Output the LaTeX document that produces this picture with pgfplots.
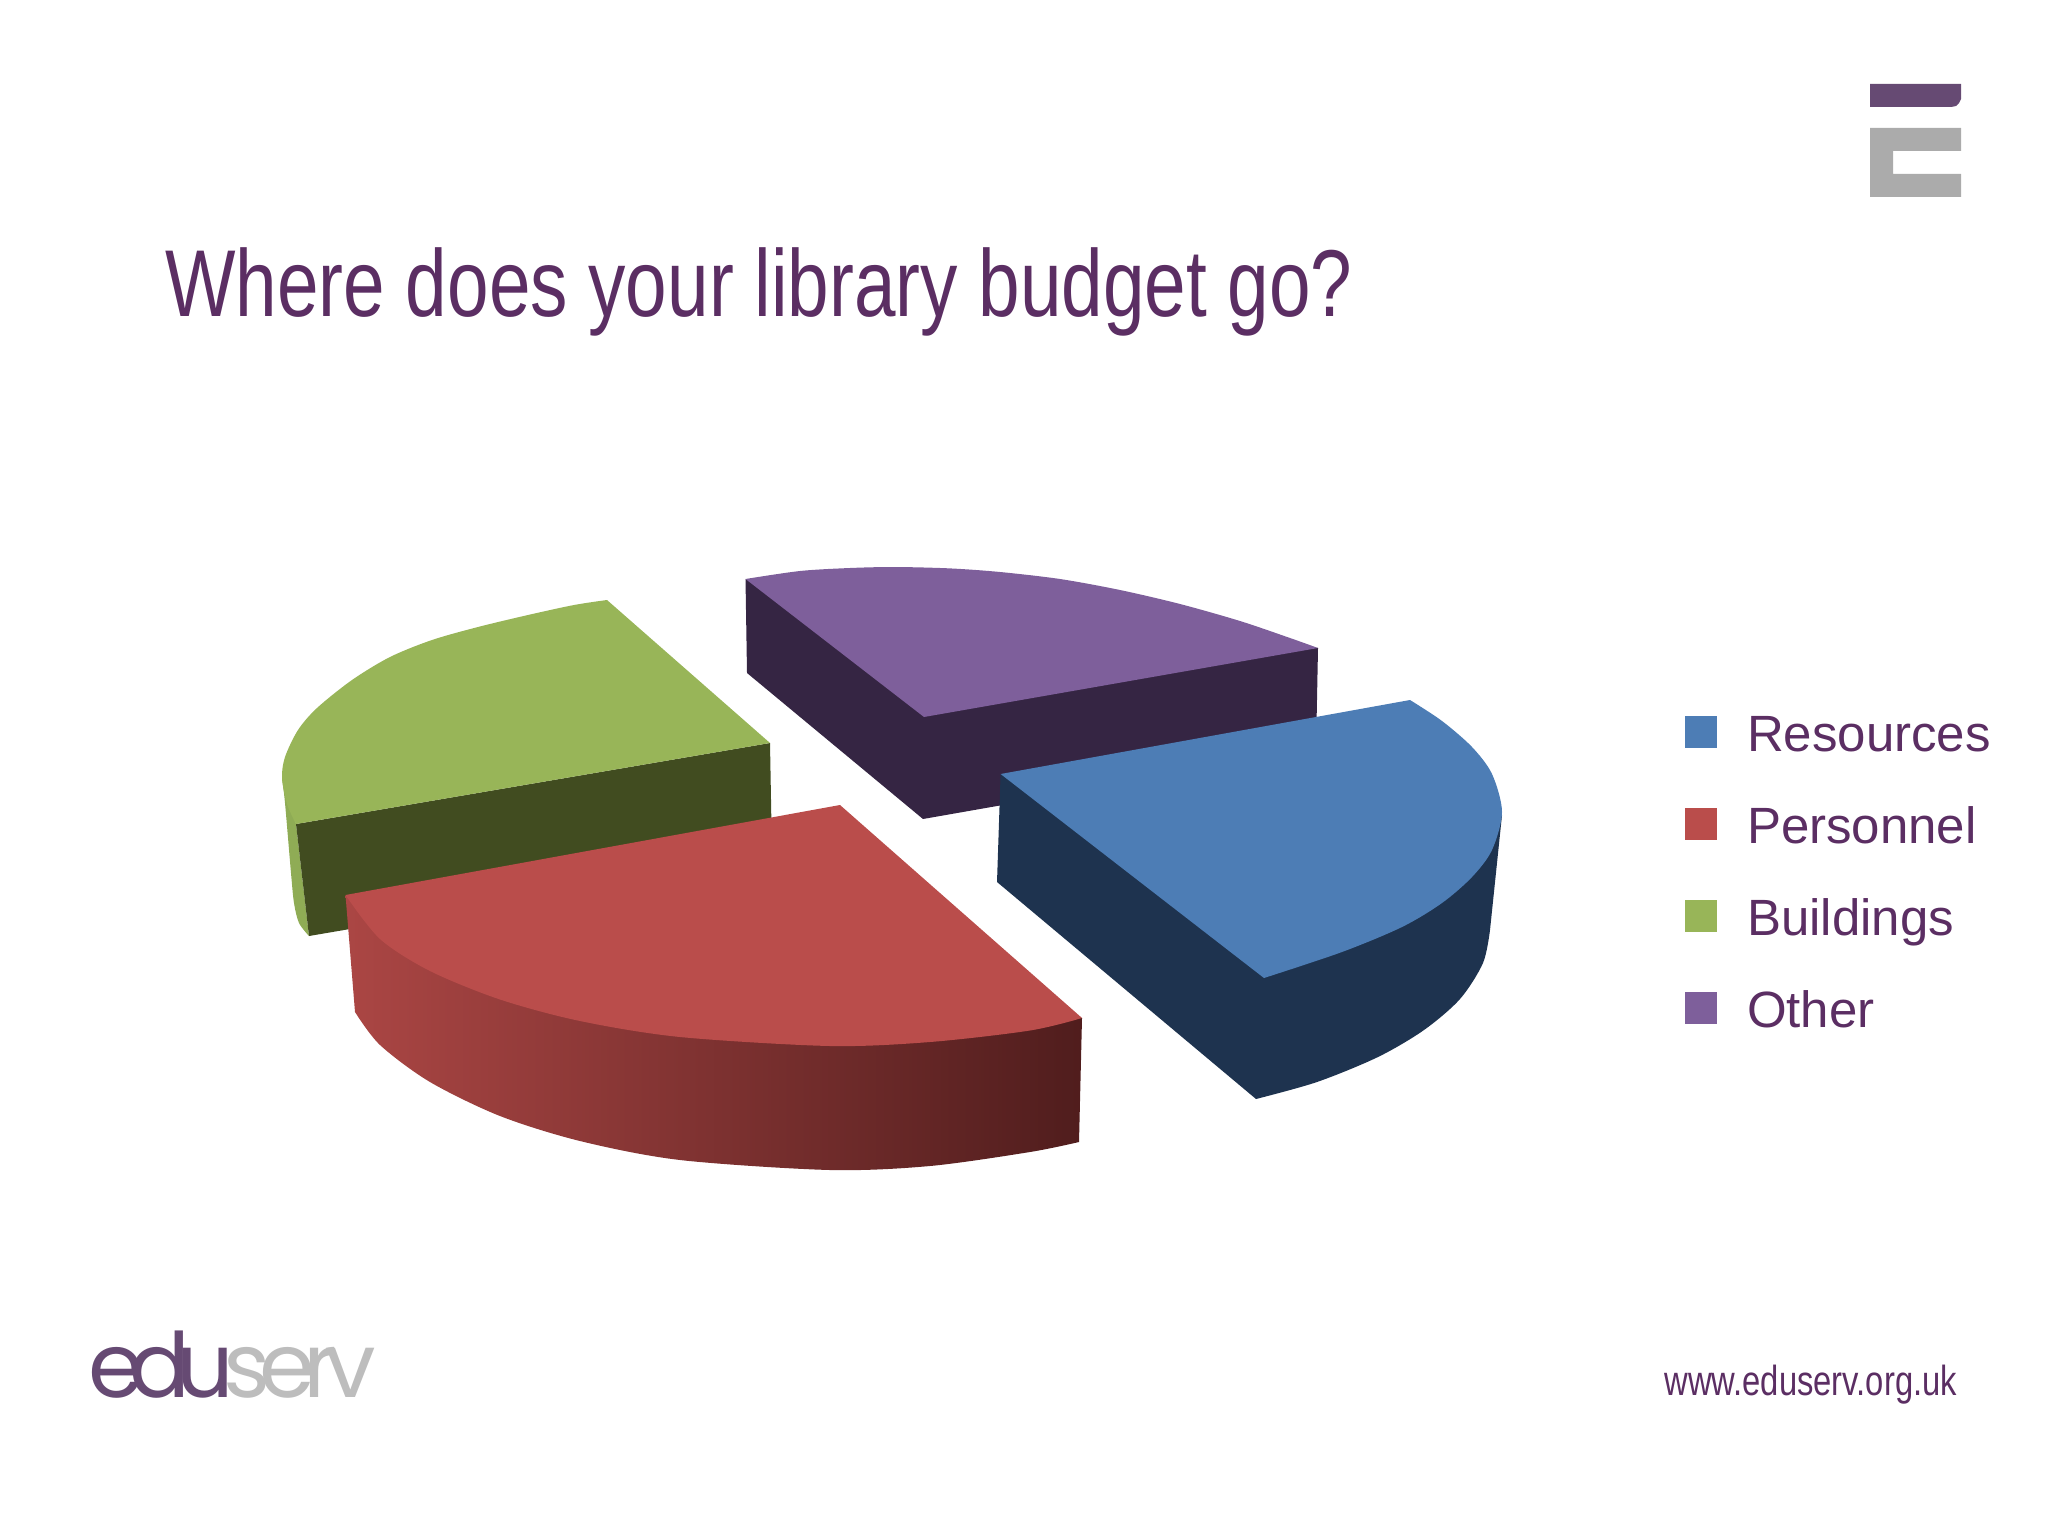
\documentclass[border=0pt]{standalone}
\usepackage{fontspec}
\usepackage{pgfplots}
\pgfplotsset{compat=1.18}
\setmainfont{Liberation Sans}
\newfontfamily\logofont[LetterSpace=-16]{Poppins}
\newfontfamily\logofontb[LetterSpace=-12.6]{Poppins}
\definecolor{txt}{HTML}{5B2E63}
\definecolor{brandp}{HTML}{664A73}
\definecolor{brandg}{HTML}{ABABAB}
\definecolor{logog}{HTML}{BDBDBD}
\definecolor{bluetop}{HTML}{4D7DB5}
\definecolor{blueside}{HTML}{1E334F}
\definecolor{redtop}{HTML}{BA4D4B}
\definecolor{redl}{HTML}{AB4644}
\definecolor{redm}{HTML}{873638}
\definecolor{redr}{HTML}{501D1D}
\definecolor{greentop}{HTML}{98B558}
\definecolor{greenside}{HTML}{414C20}
\definecolor{greenout}{HTML}{8FAC55}
\definecolor{purpletop}{HTML}{7E5F9B}
\definecolor{purpleside}{HTML}{352543}
\begin{document}
\begin{tikzpicture}
\path[use as bounding box] (0,0) rectangle (1024pt,768pt);
\begin{axis}[
  scale only axis, width=1024pt, height=768pt,
  xmin=0, xmax=2048, ymin=0, ymax=1536, y dir=reverse,
  axis lines=none, clip=false,
  legend cell align=left,
  legend style={at={(axis cs:1685,715)}, anchor=north west, draw=none, fill=none,
    inner sep=0pt, outer sep=0pt, font=\fontsize{25.5}{30}\selectfont\color{txt},
    row sep=23pt,
    nodes={inner sep=0pt, text height=18pt, text depth=5pt},
    /tikz/column 1/.style={column sep=15pt}},
  legend image code/.code={\fill[draw=none,#1,draw=none] (0pt,-5.2pt) rectangle (16pt,10.8pt);},
]
% Other
\addplot[forget plot, fill=purpleside, draw=none] coordinates {(745.5,579)(747,673)(923,819)(1316,750)(1318,648)} --cycle;
\addplot[forget plot, fill=purpletop, draw=none, smooth] coordinates {(745.5,579)(800,571)(850,568)(895,567)(950,568.4)(1000,572)(1060,579)(1120,590)(1180,604)(1240,621)(1290,638)(1318,648)} -- (axis cs:924,717) -- cycle;
% Buildings
\addplot[forget plot, fill=greenout, draw=none, smooth] coordinates {(282,778)(285,803)(291,873)(294,903)(299,923)(309,936)} -- (axis cs:296,824) -- cycle;
\addplot[forget plot, fill=greenside, draw=none] coordinates {(296,824)(309,936)(772,857)(770,743)} --cycle;
\addplot[forget plot, fill=greentop, draw=none, smooth] coordinates {(296,824)(287,804)(282,778)(285,757)(298,730)(317,708)(352,680)(390,657)(432,640)(478,627)(528,615)(574,605)(607,600)} -- (axis cs:770,743) -- cycle;
% Resources
\addplot[forget plot, fill=blueside, draw=none, smooth] coordinates {(1490,930)(1483,963)(1460,999)(1424,1030)(1378,1057)(1317,1082)(1256,1099)} -- (axis cs:997,882) -- (axis cs:1000.6,774) -- (axis cs:1502,815) -- cycle;
\addplot[forget plot, fill=bluetop, draw=none, smooth] coordinates {(1410,700)(1442,721)(1472,747)(1492,774)(1502,812)(1492,850)(1472,877)(1442,903)(1402,927)(1342,952)(1264,978)} -- (axis cs:1000.6,774) -- cycle;
% Personnel
\addplot[forget plot, left color=redl, middle color=redm, right color=redr, draw=none, smooth] coordinates {(355,1012)(380,1045)(430,1082)(500,1116)(580,1141)(680,1160)(830,1170)(930,1166)(1030,1152)(1079,1142)} -- (axis cs:1082,1018) -- (axis cs:345.5,895) -- cycle;
\addplot[forget plot, fill=redtop, draw=none, smooth] coordinates {(345.5,895)(380,939)(430,971)(500,999.5)(580,1021)(680,1037)(830,1046)(930,1042)(1030,1030.5)(1082,1018)} -- (axis cs:840,805) -- cycle;
% Brand mark
\addplot[forget plot, fill=brandp, draw=none] coordinates {(1870,84)(1961,84)(1961,99)(1959,103)(1956,106)(1951,107)(1870,107)} --cycle;
\addplot[forget plot, fill=brandg, draw=none] coordinates {(1870,128)(1961,128)(1961,151)(1893,151)(1893,174)(1961,174)(1961,197)(1870,197)} --cycle;
% Legend
\addlegendimage{fill=bluetop}\addlegendentry{Resources}
\addlegendimage{fill=redtop}\addlegendentry{Personnel}
\addlegendimage{fill=greentop}\addlegendentry{Buildings}
\addlegendimage{fill=purpletop}\addlegendentry{Other}
% Text
\node[anchor=base west, inner sep=0pt, text=txt, font=\fontsize{47.5}{57}\selectfont] at (axis cs:165,316) {\scalebox{.786}[1]{Where does your library budget go?}};
\node[anchor=base west, inner sep=0pt, text=txt, font=\fontsize{21}{25}\selectfont] at (axis cs:1664,1395) {\scalebox{.78}[1]{www.eduserv.org.uk}};
\node[anchor=base west, inner sep=0pt, font=\fontsize{45}{54}\selectfont] at (axis cs:88,1397) {\textcolor{brandp}{\logofont edu}\kern-5.2pt\textcolor{logog}{\logofontb serv}};
\end{axis}
\end{tikzpicture}
\end{document}
